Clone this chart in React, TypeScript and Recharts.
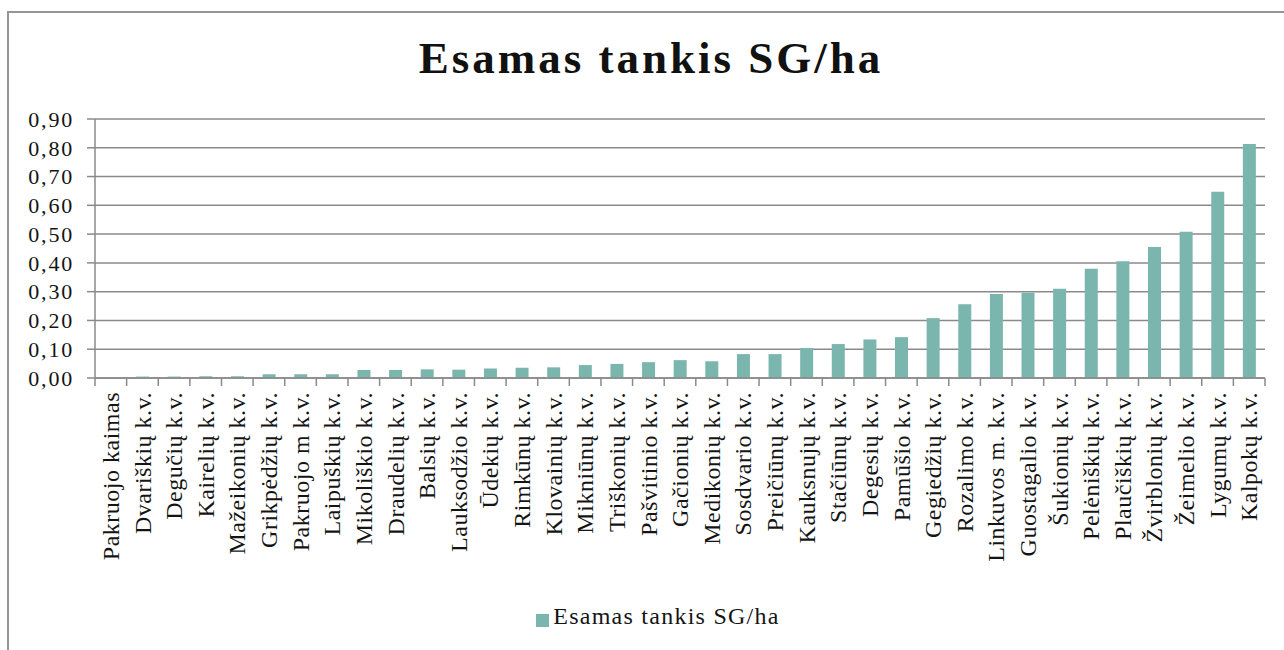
import React from "react";
import { BarChart, Bar, XAxis, YAxis, CartesianGrid, Legend } from "recharts";

const categories = [
  "Pakruojo kaimas",
  "Dvariškių k.v.",
  "Degučių k.v.",
  "Kairelių k.v.",
  "Mažeikonių k.v.",
  "Grikpėdžių k.v.",
  "Pakruojo m k.v.",
  "Laipuškių k.v.",
  "Mikoliškio k.v.",
  "Draudelių k.v.",
  "Balsių k.v.",
  "Lauksodžio k.v.",
  "Ūdekių k.v.",
  "Rimkūnų k.v.",
  "Klovainių k.v.",
  "Mikniūnų k.v.",
  "Triškonių k.v.",
  "Pašvitinio k.v.",
  "Gačionių k.v.",
  "Medikonių k.v.",
  "Sosdvario k.v.",
  "Preičiūnų k.v.",
  "Kauksnujų k.v.",
  "Stačiūnų k.v.",
  "Degesių k.v.",
  "Pamūšio k.v.",
  "Gegiedžių k.v.",
  "Rozalimo k.v.",
  "Linkuvos m. k.v.",
  "Guostagalio k.v.",
  "Šukionių k.v.",
  "Pelėniškių k.v.",
  "Plaučiškių k.v.",
  "Žvirblonių k.v.",
  "Žeimelio k.v.",
  "Lygumų k.v.",
  "Kalpokų k.v.",
];

const values = [
  0, 0.005, 0.005, 0.006, 0.006, 0.013, 0.013, 0.013, 0.028, 0.028, 0.03,
  0.029, 0.033, 0.036, 0.037, 0.045, 0.049, 0.055, 0.062, 0.058, 0.083, 0.083,
  0.104, 0.118, 0.134, 0.142, 0.208, 0.256, 0.292, 0.296, 0.31, 0.38, 0.406,
  0.455, 0.508, 0.647, 0.813,
];

const yTicks = [0, 0.1, 0.2, 0.3, 0.4, 0.5, 0.6, 0.7, 0.8, 0.9];

const seriesName = "Esamas tankis SG/ha";
const titleText = "Esamas tankis SG/ha";

const data = categories.map((c, i) => ({ name: c, value: values[i] }));

const FONT = "'Liberation Serif', 'Times New Roman', serif";
const GRID = "#8a8a8a";
const BAR = "#7ab5ae";
const TEXT = "#141414";
const TICK_SIZE = 8;
const TICK_MARGIN = 6;

const XTick = (props: any) => {
  const { x, y, payload, index } = props;
  const off = payload && typeof payload.offset === "number" ? payload.offset : 0;
  const axisY = y - TICK_SIZE - TICK_MARGIN;
  return (
    <g>
      <line x1={x - off} x2={x - off} y1={axisY} y2={axisY + TICK_SIZE} stroke={GRID} strokeWidth={1.5} />
      {index === categories.length - 1 && (
        <line x1={x + off} x2={x + off} y1={axisY} y2={axisY + TICK_SIZE} stroke={GRID} strokeWidth={1.5} />
      )}
      <text
        transform={`translate(${x},${y}) rotate(-90)`}
        textAnchor="end"
        dy="0.34em"
        fill={TEXT}
        style={{ fontFamily: FONT, fontSize: 24, letterSpacing: 0.5 }}
      >
        {payload.value}
      </text>
    </g>
  );
};

export default function App() {
  return (
    <div
      style={{
        position: "absolute",
        left: 7,
        top: 11,
        width: 1277,
        height: 639,
        boxSizing: "border-box",
        borderLeft: "2px solid #959595",
        borderTop: "2px solid #959595",
        background: "#fff",
        fontFamily: FONT,
        overflow: "hidden",
      }}
    >
      <div
        style={{
          position: "absolute",
          left: 9,
          right: 0,
          top: 23,
          textAlign: "center",
          fontSize: 45,
          lineHeight: "45px",
          fontWeight: "bold",
          letterSpacing: 3,
          color: "#111",
          fontFamily: FONT,
        }}
      >
        {titleText}
      </div>
      <div style={{ position: "absolute", left: -2, top: -2 }}>
        <BarChart
          width={1277}
          height={639}
          data={data}
          margin={{ top: 108, right: 19, left: 0, bottom: 20 }}
          barCategoryGap="30%"
        >
          <CartesianGrid vertical={false} stroke={GRID} strokeWidth={1.5} />
          <XAxis
            dataKey="name"
            interval={0}
            height={225}
            tickSize={TICK_SIZE}
            tickMargin={TICK_MARGIN}
            tickLine={false}
            axisLine={{ stroke: GRID, strokeWidth: 1.5 }}
            tick={<XTick />}
          />
          <YAxis
            width={88}
            domain={[0, 0.9]}
            ticks={yTicks}
            interval={0}
            tickSize={8}
            tickMargin={13}
            axisLine={{ stroke: GRID, strokeWidth: 1.5 }}
            tickLine={{ stroke: GRID, strokeWidth: 1.5 }}
            tickFormatter={(v: number) => v.toFixed(2).replace(".", ",")}
            tick={{ fill: TEXT, fontSize: 22, fontFamily: FONT, letterSpacing: 1.8 }}
          />
          <Legend
            verticalAlign="bottom"
            align="center"
            iconType="square"
            iconSize={13}
            wrapperStyle={{ left: 27, fontFamily: FONT }}
            formatter={(value: string) => (
              <span style={{ color: TEXT, fontSize: 24, letterSpacing: 1.25, fontFamily: FONT }}>{value}</span>
            )}
          />
          <Bar dataKey="value" name={seriesName} fill={BAR} isAnimationActive={false} />
        </BarChart>
      </div>
    </div>
  );
}
